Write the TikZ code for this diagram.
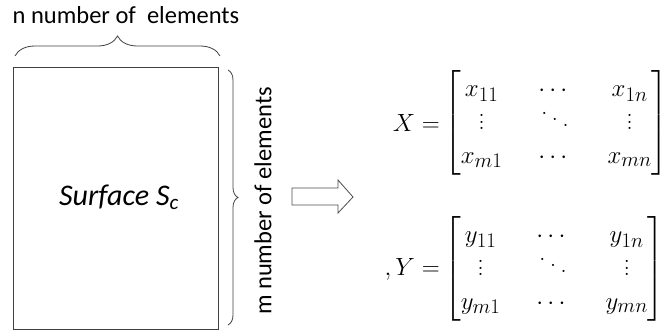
\documentclass[tikz,border=0pt]{standalone}
\usepackage{amsmath}
\usepackage{fontspec}
\newfontfamily\calibri{Carlito}
\DeclareMathSizes{26}{26}{20}{16}
\usetikzlibrary{decorations.pathreplacing}
\makeatletter
\newcommand{\bigvdots}{\vbox{\baselineskip=0.25em \lineskiplimit\z@ \kern0.25em\hbox{.}\hbox{.}\hbox{.}}}
\newcommand{\bigddots}{\mathinner{\mkern1mu\raise0.58em\hbox{.}\mkern3mu\raise0.36em\hbox{.}\mkern3mu\raise0.14em\hbox{.}\mkern1mu}}
\makeatother
\begin{document}
\begin{tikzpicture}[x=1pt,y=-1pt,
  lbl/.style={font=\calibri\fontsize{24.5}{28}\selectfont, inner sep=0pt},
  brc/.style={draw=black!75, line width=0.8pt, decorate, decoration={brace, amplitude=#1}},
  mat/.style={font=\fontsize{26}{31}\selectfont, inner sep=0pt}]
\useasboundingbox (0,0) rectangle (666,335);
\node[lbl, anchor=center] (ntext) at (126,15) {n number of\ \ elements};
\node[draw=black!75, line width=0.9pt, minimum width=205pt, minimum height=262pt, inner sep=0pt, anchor=north west] (surf) at (13,67) {};
\node[font=\calibri\fontsize{30}{34}\selectfont\itshape, inner sep=0pt] (stext) at (119,197) {Surface S\textsubscript{\itshape c}};
\coordinate (tb1) at (15,56);
\coordinate (tb2) at (220,56);
\draw[brc=20pt] (tb1) -- (tb2);
\coordinate (rb1) at (228,70);
\coordinate (rb2) at (228,325);
\draw[brc=10pt] (rb1) -- (rb2);
\node[lbl, rotate=90] (mtext) at (263,201) {m number of elements};
\coordinate (a0) at (292,188);
\draw[black!70, line width=0.8pt] (a0) -- (338,188) -- (338,180) -- (353,197) -- (338,213) -- (338,205) -- (292,205) -- cycle;
\node[mat, anchor=east] (xlhs) at (440,123) {$X=$};
\node[mat, anchor=west] (xmat) at (444,123) {$\setlength{\arraycolsep}{18pt}\renewcommand{\arraystretch}{1.08}\begin{bmatrix} x_{11} & \cdots & x_{1n}\\ \bigvdots & \bigddots & \bigvdots \\ x_{m1} & \cdots & x_{mn}\end{bmatrix}$};
\node[mat, anchor=east] (ylhs) at (440,269) {$,Y=$};
\node[mat, anchor=west] (ymat) at (444,269) {$\setlength{\arraycolsep}{18pt}\renewcommand{\arraystretch}{1.08}\begin{bmatrix} y_{11} & \cdots & y_{1n}\\ \bigvdots & \bigddots & \bigvdots \\ y_{m1} & \cdots & y_{mn}\end{bmatrix}$};
\end{tikzpicture}
\end{document}
